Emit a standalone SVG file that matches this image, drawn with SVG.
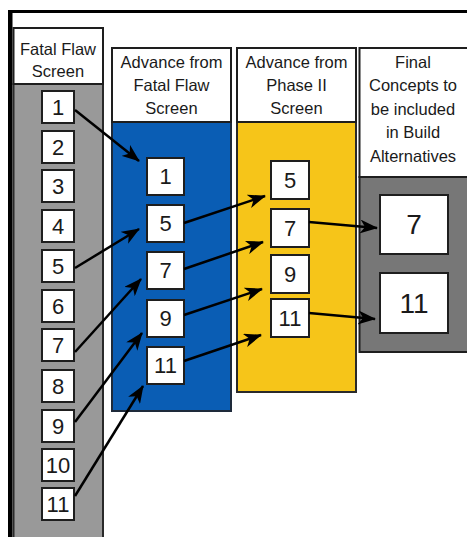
<svg xmlns="http://www.w3.org/2000/svg" width="467" height="537" viewBox="0 0 467 537">
<style>
.hdr{fill:#ffffff;stroke:#1e1e1e;stroke-width:2}
.ht{font-family:"Liberation Sans",Arial,sans-serif;font-size:16.5px;fill:#1a1a1a;text-anchor:middle}
.bx{fill:#ffffff;stroke:#1e1e1e;stroke-width:2}
.n{font-family:"Liberation Sans",Arial,sans-serif;font-size:22px;fill:#1a1a1a;text-anchor:middle}
.nb{font-family:"Liberation Sans",Arial,sans-serif;font-size:28px;fill:#1a1a1a;text-anchor:middle}
.ar{stroke:#000;stroke-width:2.5;fill:none;marker-end:url(#ah)}
</style>
<defs>
<marker id="ah" viewBox="0 0 18 14" markerWidth="18" markerHeight="14" refX="17" refY="7" orient="auto" markerUnits="userSpaceOnUse">
<path d="M0,0 L18,7 L0,14 L5,7 z" fill="#000"/>
</marker>
</defs>
<rect x="0" y="0" width="467" height="537" fill="#ffffff"/>
<!-- frame -->
<line x1="8" y1="11.5" x2="467" y2="11.5" stroke="#000" stroke-width="3"/>
<rect x="8" y="10" width="4.5" height="527" fill="#000"/>

<!-- Column 1 -->
<g id="col1">
<rect x="13.5" y="84" width="89.5" height="460" fill="#999999" stroke="#2a2a2a" stroke-width="2"/>
<rect class="hdr" x="13.5" y="28" width="89.5" height="56"/>
<text class="ht" x="58" y="55">Fatal Flaw</text>
<text class="ht" x="58" y="77">Screen</text>
</g>
<g id="c1n1"><rect class="bx" x="42" y="91" width="32" height="32"/><text class="n" x="58" y="115">1</text></g>
<g id="c1n2"><rect class="bx" x="42" y="131" width="32" height="32"/><text class="n" x="58" y="155">2</text></g>
<g id="c1n3"><rect class="bx" x="42" y="170" width="32" height="32"/><text class="n" x="58" y="194">3</text></g>
<g id="c1n4"><rect class="bx" x="42" y="210" width="32" height="32"/><text class="n" x="58" y="234">4</text></g>
<g id="c1n5"><rect class="bx" x="42" y="250" width="32" height="32"/><text class="n" x="58" y="274">5</text></g>
<g id="c1n6"><rect class="bx" x="42" y="290" width="32" height="32"/><text class="n" x="58" y="314">6</text></g>
<g id="c1n7"><rect class="bx" x="42" y="329" width="32" height="32"/><text class="n" x="58" y="353">7</text></g>
<g id="c1n8"><rect class="bx" x="42" y="370" width="32" height="32"/><text class="n" x="58" y="394">8</text></g>
<g id="c1n9"><rect class="bx" x="42" y="410" width="32" height="32"/><text class="n" x="58" y="434">9</text></g>
<g id="c1n10"><rect class="bx" x="42" y="449" width="32" height="32"/><text class="n" x="58" y="473">10</text></g>
<g id="c1n11"><rect class="bx" x="42" y="488" width="32" height="32"/><text class="n" x="58" y="512">11</text></g>

<!-- Column 2 -->
<g id="col2">
<rect x="112" y="122" width="119" height="289" fill="#0a5db4" stroke="#1e2a3a" stroke-width="2"/>
<rect class="hdr" x="112" y="48" width="119" height="74"/>
<text class="ht" x="171.5" y="68">Advance from</text>
<text class="ht" x="171.5" y="91">Fatal Flaw</text>
<text class="ht" x="171.5" y="114">Screen</text>
</g>
<g id="c2n1"><rect class="bx" x="147" y="158" width="37" height="37"/><text class="n" x="165.5" y="184">1</text></g>
<g id="c2n5"><rect class="bx" x="147" y="205" width="37" height="37"/><text class="n" x="165.5" y="231">5</text></g>
<g id="c2n7"><rect class="bx" x="147" y="252" width="37" height="37"/><text class="n" x="165.5" y="278">7</text></g>
<g id="c2n9"><rect class="bx" x="147" y="300" width="37" height="37"/><text class="n" x="165.5" y="326">9</text></g>
<g id="c2n11"><rect class="bx" x="147" y="347" width="37" height="37"/><text class="n" x="165.5" y="373">11</text></g>

<!-- Column 3 -->
<g id="col3">
<rect x="237" y="122" width="119" height="270" fill="#f6c519" stroke="#2a2a2a" stroke-width="2"/>
<rect class="hdr" x="237" y="48" width="119" height="74"/>
<text class="ht" x="296.5" y="68">Advance from</text>
<text class="ht" x="296.5" y="91">Phase II</text>
<text class="ht" x="296.5" y="114">Screen</text>
</g>
<g id="c3n5"><rect class="bx" x="271" y="161" width="38" height="38"/><text class="n" x="290" y="188">5</text></g>
<g id="c3n7"><rect class="bx" x="271" y="209" width="38" height="38"/><text class="n" x="290" y="236">7</text></g>
<g id="c3n9"><rect class="bx" x="271" y="255" width="38" height="38"/><text class="n" x="290" y="282">9</text></g>
<g id="c3n11"><rect class="bx" x="271" y="299" width="38" height="38"/><text class="n" x="290" y="326">11</text></g>

<!-- Column 4 -->
<g id="col4">
<rect x="359.5" y="177" width="112" height="175" fill="#777777" stroke="#1e1e1e" stroke-width="2"/>
<rect class="hdr" x="359.5" y="48" width="112" height="129"/>
<text class="ht" x="413" y="68">Final</text>
<text class="ht" x="413" y="91">Concepts to</text>
<text class="ht" x="413" y="115">be included</text>
<text class="ht" x="413" y="138">in Build</text>
<text class="ht" x="413" y="162">Alternatives</text>
</g>
<g id="c4n7"><rect class="bx" x="380" y="195" width="68" height="59"/><text class="nb" x="414" y="234">7</text></g>
<g id="c4n11"><rect class="bx" x="380" y="273" width="68" height="60"/><text class="nb" x="414" y="313">11</text></g>

<!-- Connectors -->
<g id="connectors">
<line class="ar" x1="75" y1="110" x2="139" y2="161"/>
<line class="ar" x1="75" y1="268" x2="139" y2="229"/>
<line class="ar" x1="75" y1="352" x2="141" y2="279"/>
<line class="ar" x1="75" y1="422" x2="142" y2="333"/>
<line class="ar" x1="75" y1="496" x2="143" y2="386"/>
<line class="ar" x1="184" y1="223" x2="265" y2="196"/>
<line class="ar" x1="184" y1="269" x2="263" y2="242"/>
<line class="ar" x1="184" y1="315" x2="262" y2="289"/>
<line class="ar" x1="184" y1="361" x2="261" y2="335"/>
<line class="ar" x1="309" y1="222" x2="377" y2="228"/>
<line class="ar" x1="309" y1="313" x2="375" y2="319"/>
</g>
</svg>
